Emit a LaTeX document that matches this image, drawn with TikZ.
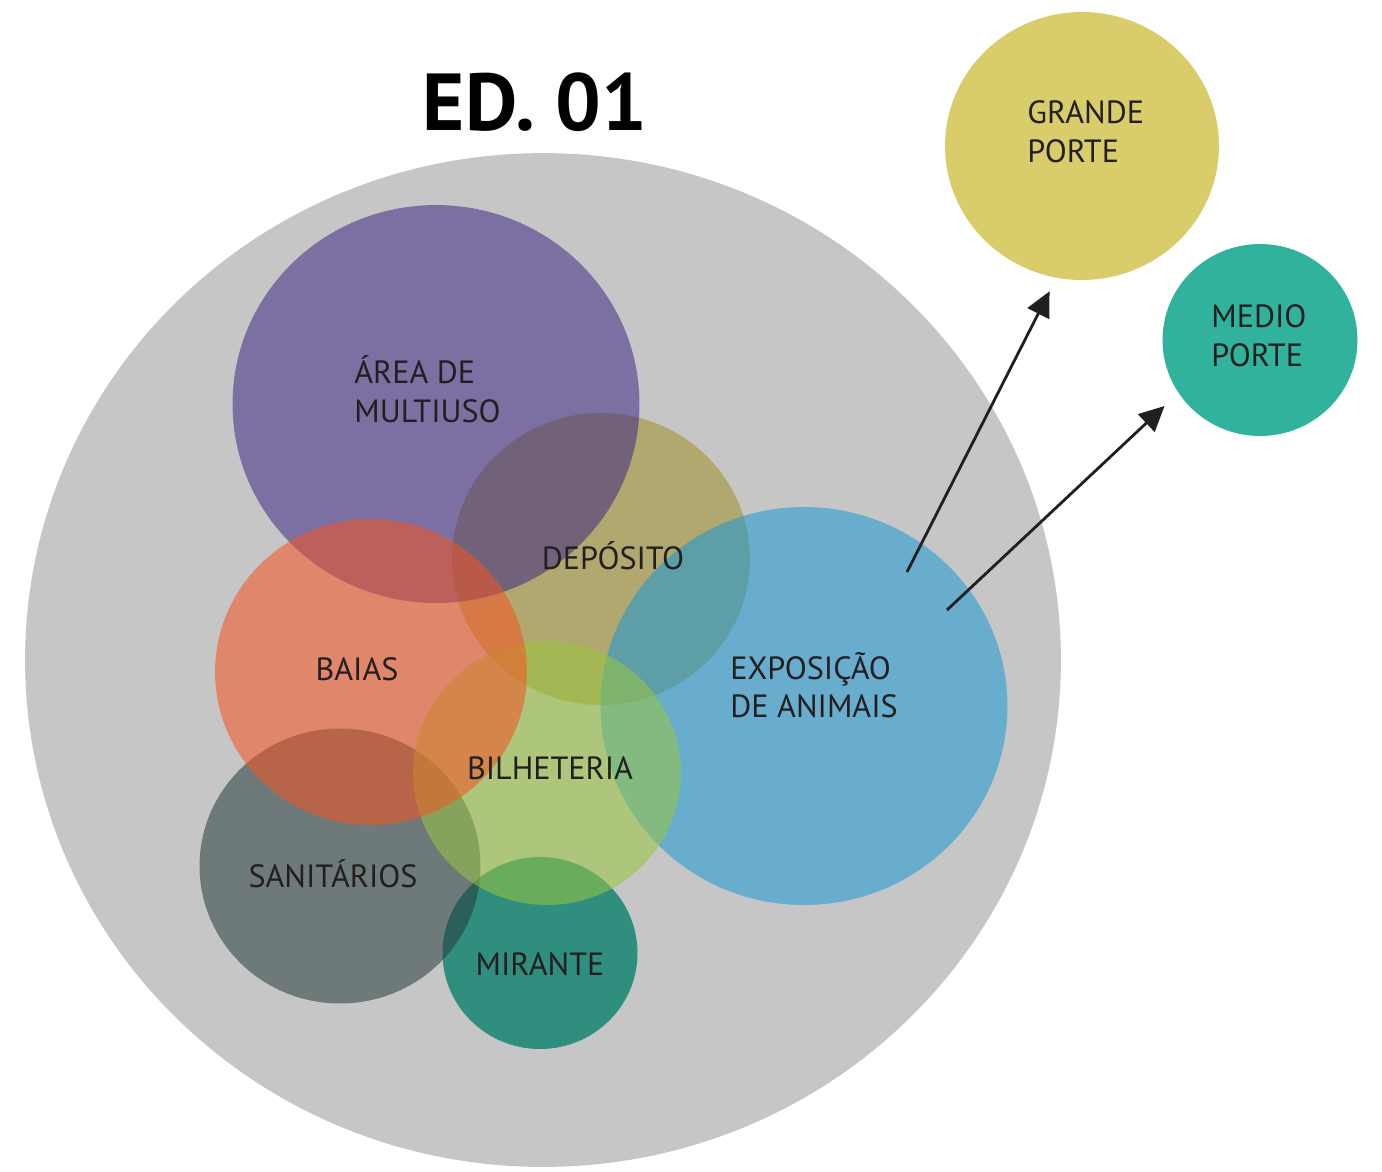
\documentclass[tikz,border=0pt]{standalone}
\usepackage{fontspec}
\setmainfont{PT Sans}
\usetikzlibrary{arrows.meta, shapes.geometric, positioning}

\definecolor{areagrey}{RGB}{198,198,198}
\definecolor{multiuso}{RGB}{62,42,131}
\definecolor{deposito}{RGB}{160,145,42}
\definecolor{exposicao}{RGB}{27,151,213}
\definecolor{baias}{RGB}{245,83,34}
\definecolor{bilheteria}{RGB}{153,198,64}
\definecolor{sanitarios}{RGB}{38,60,60}
\definecolor{mirante}{RGB}{47,142,126}
\definecolor{grande}{RGB}{217,204,106}
\definecolor{medio}{RGB}{49,178,156}
\definecolor{ink}{RGB}{35,31,32}

\begin{document}
\begin{tikzpicture}[
        x=0.02cm, y=-0.02cm,
        zone/.style={ellipse, inner sep=0pt, fill opacity=0.55},
        solidzone/.style={ellipse, inner sep=0pt},
        label/.style={font=\fontsize{18.3}{22}\selectfont, text=ink, align=left, inner sep=0pt},
        title/.style={font=\fontsize{46}{50}\selectfont\bfseries, text=black},
        arrow/.style={-{Triangle[length=0.5cm, width=0.48cm]}, line width=1.6pt, draw=ink},
        ]
    \useasboundingbox (0,0) rectangle (1382,1171);

        % Areas
        \node[solidzone, fill=areagrey, minimum width=20.72cm, minimum height=20.28cm] (edificio) at (543,660) {};
        \node[zone, fill=deposito, minimum width=5.96cm, minimum height=5.84cm] (dep) at (601,559) {};
        \node[zone, fill=multiuso, minimum width=8.14cm, minimum height=7.96cm] (multi) at (436,404) {};
        \node[zone, fill=exposicao, minimum width=8.14cm, minimum height=7.96cm] (expo) at (804,706) {};
        \node[solidzone, fill=mirante, minimum width=3.90cm, minimum height=3.84cm] (mir) at (540,953) {};
        \node[zone, fill=sanitarios, minimum width=5.62cm, minimum height=5.50cm] (san) at (340,866) {};
        \node[zone, fill=bilheteria, minimum width=5.36cm, minimum height=5.28cm] (bil) at (547,773) {};
        \node[zone, fill=baias, minimum width=6.24cm, minimum height=6.12cm] (baias) at (371,672) {};
        \node[solidzone, fill=grande, minimum width=5.48cm, minimum height=5.36cm] (gp) at (1082,146) {};
        \node[solidzone, fill=medio, minimum width=3.90cm, minimum height=3.84cm] (mp) at (1260,340) {};

        % Labels
        \node[title] (ed) at (535,102) {ED. 01};
        \node[label, anchor=west] (multi-lbl) at (354,389) {ÁREA DE\\MULTIUSO};
        \node[label] (dep-lbl) at (613,556) {DEPÓSITO};
        \node[label] (baias-lbl) at (357,669) {BAIAS};
        \node[label, anchor=west] (expo-lbl) at (730,685) {EXPOSIÇÃO\\DE ANIMAIS};
        \node[label] (bil-lbl) at (550,768) {BILHETERIA};
        \node[label] (san-lbl) at (333,874) {SANITÁRIOS};
        \node[label] (mir-lbl) at (540,964) {MIRANTE};
        \node[label, anchor=west] (gp-lbl) at (1027,132) {GRANDE\\PORTE};
        \node[label, anchor=west] (mp-lbl) at (1211,336) {MEDIO\\PORTE};

        % Arrows
        \coordinate (gp-from) at (907,572);
        \coordinate (mp-from) at (947,610);
        \draw[arrow, shorten >=0.3cm] (gp-from) -- (gp.259);
        \draw[arrow, shorten >=0.38cm] (mp-from) -- (mp.213);

    \end{tikzpicture}
\end{document}
